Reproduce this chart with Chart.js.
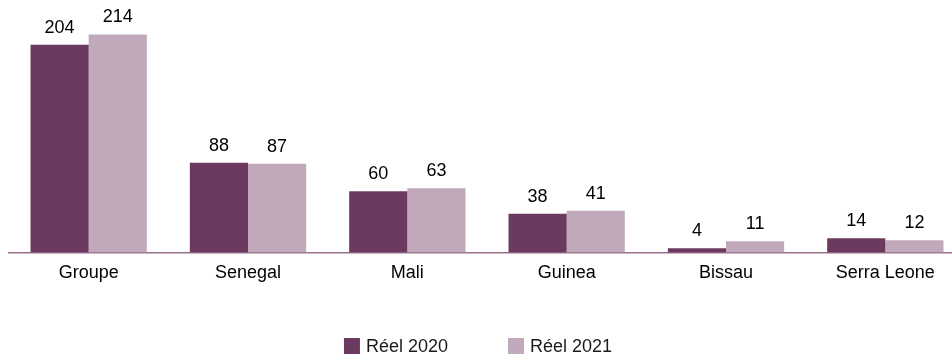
<!DOCTYPE html>
<html>
<head>
<meta charset="utf-8">
<script src="https://cdn.jsdelivr.net/npm/chart.js@4"></script>
<style>
  body { margin: 0; overflow: hidden; background: #fff; }
  #wrap { width: 968px; height: 356px; position: relative; }
</style>
</head>
<body>
<div id="wrap"><canvas id="barChart"></canvas></div>
<script>
const categories = ['Groupe', 'Senegal', 'Mali', 'Guinea', 'Bissau', 'Serra Leone'];
const reel2020 = [204, 88, 60, 38, 4, 14];
const reel2021 = [214, 87, 63, 41, 11, 12];
const seriesNames = ['Réel 2020', 'Réel 2021'];

const FONT = '"Liberation Sans", Arial, Helvetica, sans-serif';

// value labels above each bar
const valueLabels = {
  id: 'valueLabels',
  afterDatasetsDraw(chart) {
    const ctx = chart.ctx;
    ctx.save();
    ctx.font = '18px ' + FONT;
    ctx.fillStyle = '#000';
    ctx.textAlign = 'center';
    ctx.textBaseline = 'alphabetic';
    chart.data.datasets.forEach((ds, i) => {
      chart.getDatasetMeta(i).data.forEach((bar, j) => {
        ctx.fillText(ds.data[j], bar.x, bar.y - 12);
      });
    });
    ctx.restore();
  }
};

// legend drawn by hand so it can sit where the original one is
const bottomLegend = {
  id: 'bottomLegend',
  afterDraw(chart) {
    const ctx = chart.ctx;
    ctx.save();
    ctx.font = '18px ' + FONT;
    ctx.textBaseline = 'middle';
    const box = 16, gap = 6, between = 60;
    const items = chart.data.datasets.map(ds => ({ text: ds.label, color: ds.backgroundColor, w: ctx.measureText(ds.label).width }));
    const total = items.reduce((s, it) => s + box + gap + it.w, 0) + between * (items.length - 1);
    let x = 478 - total / 2;
    const y = 346;
    items.forEach(it => {
      ctx.fillStyle = it.color;
      ctx.fillRect(x, y - box / 2, box, box);
      ctx.fillStyle = '#1a1a1a';
      ctx.fillText(it.text, x + box + gap, y + 1);
      x += box + gap + it.w + between;
    });
    ctx.restore();
  }
};

new Chart(document.getElementById('barChart').getContext('2d'), {
  type: 'bar',
  data: {
    labels: categories,
    datasets: [{
      label: seriesNames[0],
      data: reel2020,
      backgroundColor: '#6C3A5F',
      barPercentage: 1,
      categoryPercentage: 0.73
    }, {
      label: seriesNames[1],
      data: reel2021,
      backgroundColor: '#C1A9BC',
      barPercentage: 1,
      categoryPercentage: 0.73
    }]
  },
  plugins: [valueLabels, bottomLegend],
  options: {
    responsive: true,
    maintainAspectRatio: false,
    animation: false,
    layout: {
      padding: { left: 9, right: 3, top: 10, bottom: 62 }
    },
    plugins: {
      legend: { display: false },
      tooltip: { enabled: false }
    },
    scales: {
      x: {
        grid: { display: false, drawTicks: false },
        border: { display: true, color: '#98708C', width: 1.5 },
        ticks: {
          color: '#000',
          padding: 10,
          font: { family: FONT, size: 18 }
        }
      },
      y: {
        display: false,
        min: 0,
        max: 238
      }
    }
  }
});
</script>
</body>
</html>
